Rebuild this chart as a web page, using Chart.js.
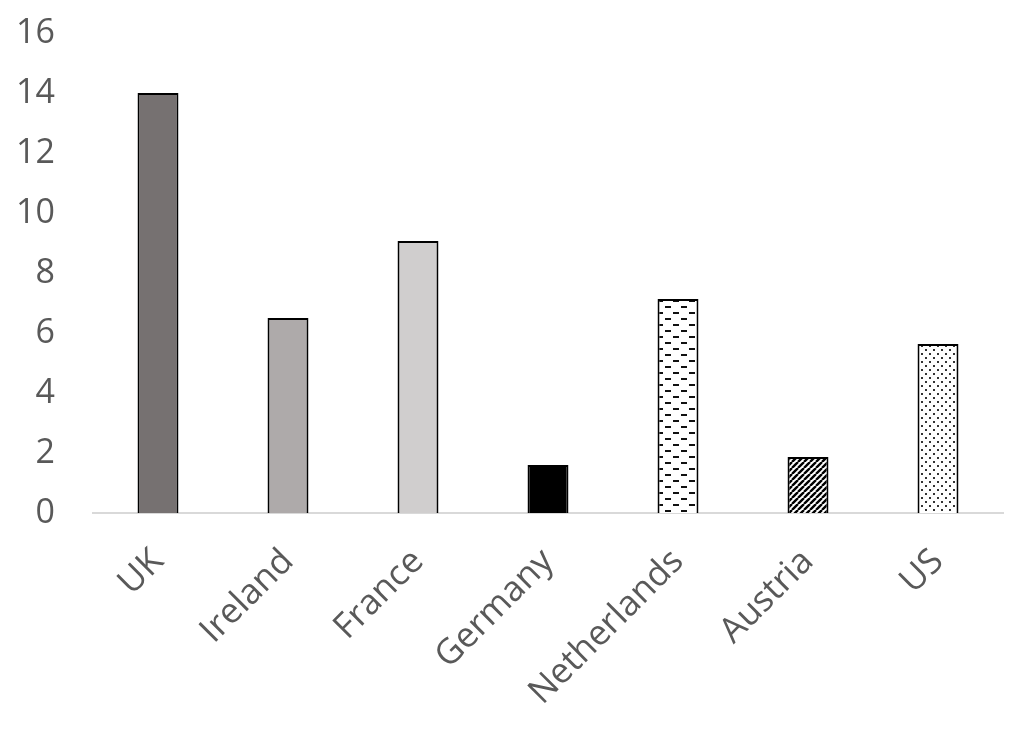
<!DOCTYPE html>
<html><head><meta charset="utf-8">
<script src="https://cdn.jsdelivr.net/npm/chart.js@4/dist/chart.umd.min.js"></script>
<style>html,body{margin:0;padding:0;background:#fff}#w{width:1024px;height:731px}</style>
</head><body><div id="w"><canvas id="c" width="1024" height="731"></canvas></div>
<script>
const categories = ["UK","Ireland","France","Germany","Netherlands","Austria","US"];
const values = [14, 6.5, 9.07, 1.6, 7.13, 1.87, 5.63];
const yTicks = [0,2,4,6,8,10,12,14,16];

function mk(w,h,draw){const c=document.createElement('canvas');c.width=w;c.height=h;const x=c.getContext('2d');x.fillStyle='#fff';x.fillRect(0,0,w,h);draw(x);return x.createPattern(c,'repeat');}
const dashPat=mk(16,12,x=>{x.fillStyle='#111';x.fillRect(1,0,6,2);x.fillRect(9,6,6,2);});
const diagPat=mk(6,6,x=>{x.strokeStyle='#000';x.lineWidth=2.4;x.beginPath();for(let i=-6;i<=12;i+=6){x.moveTo(i,6);x.lineTo(i+6,0);}x.stroke();});
const dotPat=mk(8,8,x=>{x.fillStyle='#333';x.fillRect(1,1,2,2);x.fillRect(5,5,2,2);});
const fills=['#767171','#AEAAAA','#D0CECE','#000000',dashPat,diagPat,dotPat];

new Chart(document.getElementById('c'),{
 type:'bar',
 data:{labels:categories,datasets:[{data:values,backgroundColor:fills,borderColor:'#000',borderWidth:2,categoryPercentage:1,barPercentage:0.315}]},
 options:{responsive:false,animation:false,devicePixelRatio:1,
  layout:{padding:{top:33,right:21,left:0,bottom:0}},
  plugins:{legend:{display:false},tooltip:{enabled:false}},
  scales:{
   x:{grid:{display:false,drawTicks:false},border:{display:true,color:'#d9d9d9',width:2},
      ticks:{color:'#595959',font:{family:'"Open Sans", sans-serif',size:35},minRotation:45,maxRotation:45,padding:28},
      afterFit:s=>{s.height=218;s.paddingLeft=0;s.paddingRight=0;}},
   y:{min:0,max:16,grid:{display:false,drawTicks:false},border:{display:false},
      afterBuildTicks:s=>{s.ticks=yTicks.map(v=>({value:v}));},
      ticks:{color:'#595959',font:{family:'"Open Sans", sans-serif',size:34},padding:38},
      afterFit:s=>{s.width=93;s.paddingTop=0;s.paddingBottom=0;}}
  }}
});
</script></body></html>
